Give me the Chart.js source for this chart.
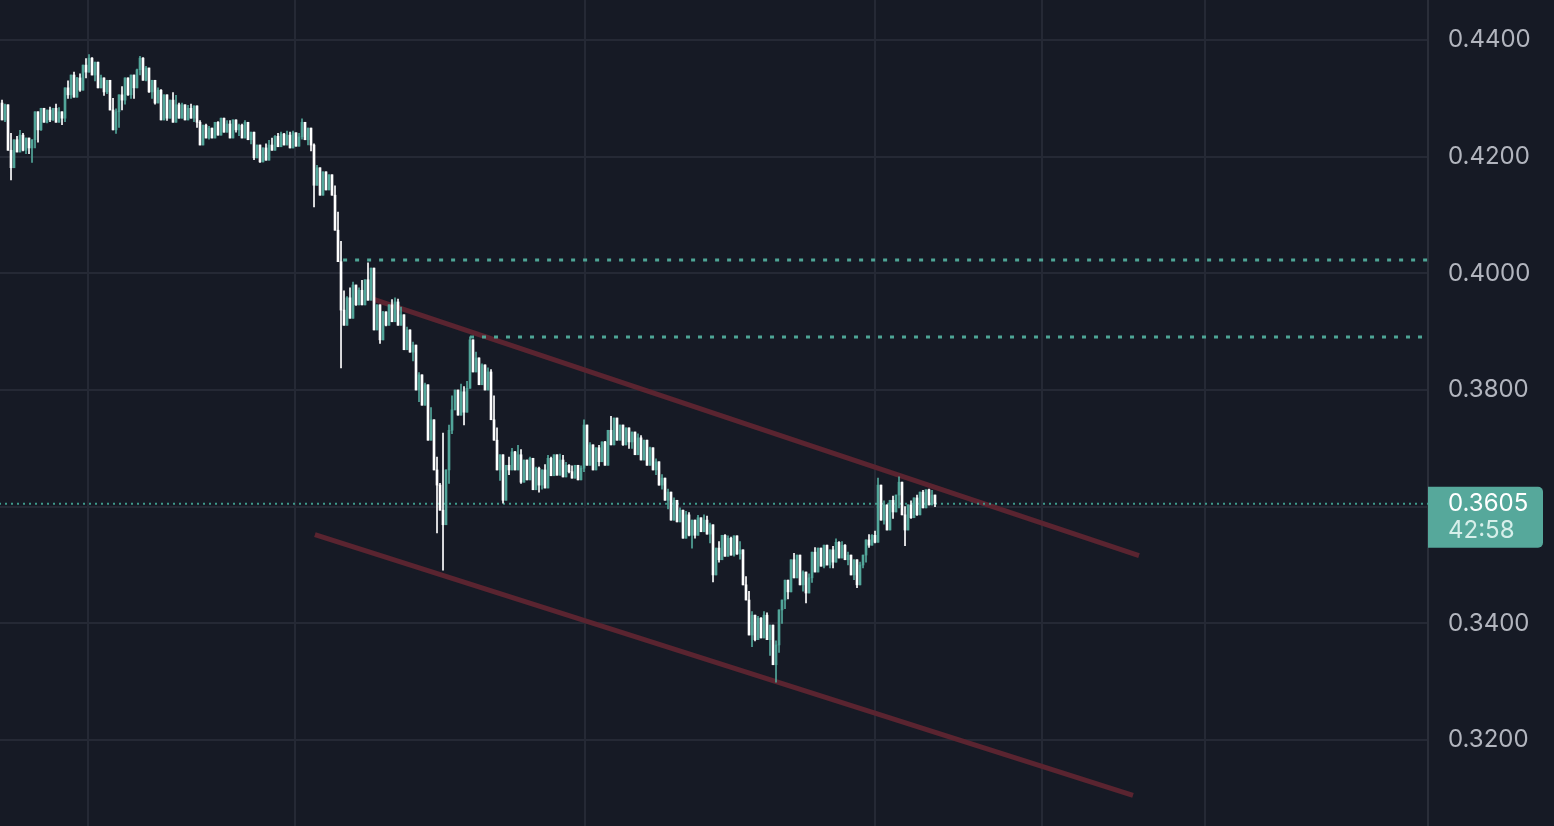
<!DOCTYPE html>
<html>
<head>
<meta charset="utf-8">
<script src="https://cdn.jsdelivr.net/npm/chart.js@4"></script>
<style>
  html, body { margin: 0; padding: 0; background: #161a25; }
  #wrap { width: 1554px; height: 826px; }
</style>
</head>
<body>
<div id="wrap"><canvas id="chart"></canvas></div>
<script>
// prices are x10000, one candle per step, open = previous close
const firstOpen = 4292;
const closes = [
  4263,4289,4211,4181,4229,4208,4237,4211,4232,4215,
  4229,4277,4246,4283,4259,4280,4263,4283,4259,4277,
  4266,4318,4306,4340,4302,4335,4314,4357,4345,4369,
  4340,4362,4318,4335,4311,4331,4280,4246,4277,4306,
  4297,4335,4306,4340,4318,4349,4369,4331,4352,4311,
  4331,4292,4314,4263,4306,4266,4297,4259,4289,4266,
  4289,4263,4283,4266,4287,4259,4220,4254,4232,4249,
  4232,4259,4237,4266,4242,4256,4232,4263,4246,4254,
  4232,4259,4229,4242,4198,4220,4191,4215,4194,4220,
  4211,4235,4217,4239,4220,4237,4215,4241,4218,4234,
  4259,4229,4249,4220,4151,4181,4134,4174,4143,4169,
  4134,4074,4020,3937,3911,3958,3923,3980,3946,3971,
  3946,3989,3954,4009,3903,3946,3886,3934,3911,3946,
  3917,3951,3911,3929,3869,3903,3865,3877,3800,3826,
  3774,3809,3714,3749,3663,3637,3594,3569,3663,3731,
  3766,3800,3757,3797,3762,3803,3886,3831,3855,3809,
  3843,3800,3831,3749,3714,3663,3689,3611,3671,3663,
  3694,3663,3689,3642,3680,3646,3683,3629,3666,3637,
  3663,3632,3683,3653,3689,3654,3680,3651,3671,3660,
  3649,3671,3646,3666,3740,3671,3706,3663,3701,3677,
  3711,3671,3731,3706,3752,3714,3740,3706,3735,3711,
  3728,3689,3718,3680,3714,3671,3701,3663,3677,3637,
  3649,3611,3625,3577,3611,3574,3594,3546,3586,3551,
  3577,3551,3581,3557,3577,3553,3569,3483,3529,3509,
  3551,3515,3546,3517,3550,3519,3526,3466,3440,3380,
  3414,3372,3409,3375,3414,3372,3397,3329,3363,3423,
  3440,3474,3454,3509,3478,3517,3466,3488,3452,3478,
  3522,3488,3529,3498,3534,3500,3526,3505,3539,3512,
  3534,3509,3517,3483,3509,3466,3500,3517,3543,3534,
  3551,3539,3637,3577,3603,3560,3611,3591,3620,3642,
  3586,3560,3603,3581,3615,3586,3625,3598,3629,3603,3620,3605
];
const highs = [
  4297,4290,4270,4240,4225,4235,4245,4240,4230,4228,
  4225,4235,4255,4272,4280,4275,4285,4282,4290,4284,
  4275,4312,4330,4326,4345,4336,4342,4350,4368,4375,
  4370,4356,4340,4340,4335,4325,4322,4300,4282,4300,
  4320,4318,4325,4322,4338,4350,4372,4370,4355,4340,
  4325,4312,4318,4315,4302,4300,4295,4310,4305,4292,
  4292,4285,4288,4290,4282,4270,4262,4252,4256,4252,
  4248,4255,4260,4258,4265,4262,4262,4260,4258,4256,
  4256,4262,4258,4242,4232,4216,4215,4212,4222,4228,
  4232,4236,4240,4242,4240,4244,4242,4244,4240,4240,
  4265,4255,4242,4232,4222,4185,4175,4168,4170,4168,
  4162,4150,4105,4055,3970,3960,3975,3985,3976,3975,
  3988,3985,4018,4000,3992,3942,3925,3935,3932,3945,
  3955,3958,3956,3942,3928,3908,3895,3882,3872,3830,
  3815,3812,3795,3770,3735,3685,3640,3726,3655,3740,
  3790,3800,3795,3810,3806,3815,3891,3880,3865,3848,
  3845,3840,3838,3835,3790,3735,3685,3660,3668,3685,
  3700,3695,3705,3698,3678,3678,3685,3682,3668,3668,
  3660,3672,3688,3685,3685,3682,3690,3688,3676,3672,
  3670,3668,3668,3670,3749,3720,3710,3695,3692,3705,
  3700,3712,3722,3755,3745,3736,3740,3738,3732,3732,
  3722,3720,3725,3722,3712,3710,3702,3700,3682,3668,
  3655,3642,3630,3618,3615,3598,3598,3588,3592,3590,
  3565,3575,3585,3580,3586,3584,3572,3548,3515,3540,
  3550,3552,3550,3548,3546,3540,3540,3522,3480,3455,
  3420,3405,3412,3410,3420,3418,3395,3385,3370,3412,
  3440,3455,3472,3497,3520,3512,3500,3490,3476,3485,
  3505,3530,3522,3520,3518,3528,3526,3532,3545,3540,
  3540,3535,3522,3515,3505,3492,3505,3515,3540,3552,
  3552,3558,3649,3625,3610,3600,3600,3618,3615,3651,
  3640,3600,3592,3610,3608,3620,3620,3628,3625,3630,3628,3618
];
const lows = [
  4278,4260,4230,4160,4188,4215,4225,4210,4205,4205,
  4190,4215,4225,4245,4260,4258,4260,4262,4265,4260,
  4255,4260,4300,4300,4310,4312,4312,4328,4335,4350,
  4342,4330,4318,4318,4305,4308,4290,4270,4240,4250,
  4280,4290,4305,4300,4300,4325,4340,4345,4330,4310,
  4300,4290,4292,4270,4280,4262,4268,4285,4275,4275,
  4275,4265,4268,4270,4260,4250,4225,4230,4240,4230,
  4232,4238,4245,4240,4242,4244,4245,4240,4242,4236,
  4238,4245,4230,4222,4195,4198,4190,4194,4202,4210,
  4215,4220,4224,4226,4222,4225,4226,4228,4222,4225,
  4230,4232,4220,4210,4114,4160,4150,4140,4145,4148,
  4138,4095,4040,3838,3925,3930,3950,3960,3945,3950,
  3960,3955,3960,3980,3930,3910,3880,3900,3910,3915,
  3930,3940,3930,3915,3895,3880,3865,3850,3820,3780,
  3785,3785,3760,3725,3670,3555,3595,3491,3570,3640,
  3725,3775,3765,3770,3740,3778,3805,3850,3835,3818,
  3820,3810,3812,3775,3725,3670,3645,3606,3625,3655,
  3670,3672,3675,3640,3650,3655,3655,3640,3645,3625,
  3630,3648,3660,3655,3658,3665,3665,3665,3655,3658,
  3652,3655,3648,3650,3660,3700,3674,3675,3670,3670,
  3680,3685,3700,3710,3725,3715,3718,3705,3710,3700,
  3700,3700,3700,3690,3692,3678,3678,3670,3655,3640,
  3630,3615,3596,3598,3580,3582,3575,3560,3562,3550,
  3529,3546,3565,3558,3560,3562,3538,3471,3485,3505,
  3512,3535,3524,3525,3515,3518,3510,3466,3440,3380,
  3360,3370,3380,3385,3388,3380,3345,3355,3299,3350,
  3400,3425,3442,3460,3485,3490,3478,3455,3435,3455,
  3470,3495,3500,3500,3495,3500,3495,3495,3520,3515,
  3518,3512,3500,3492,3475,3461,3470,3495,3505,3530,
  3536,3538,3545,3595,3570,3572,3580,3580,3595,3598,
  3588,3533,3560,3580,3585,3585,3598,3598,3605,3608,3610,3600
];

// price axis ticks and vertical time grid (in candle steps)
const priceTicks = [0.32, 0.34, 0.36, 0.38, 0.40, 0.42, 0.44];
const timeGrid = [28.67, 97.67, 194.33, 291, 346.67, 401];

// drawings: channel lines and horizontal levels [candle step, price]
const channelUpper = [[123.7, 0.3956], [379, 0.3516]];
const channelLower = [[104.3, 0.3552], [377, 0.3105]];
const levelHigh = [[113.7, 0.4023], [476, 0.4023]];
const levelMid = [[156, 0.3891], [476, 0.3891]];
const lastPrice = 0.3605;
const countdown = '42:58';

const gridColor = '#252935';
const teal = '#52a69a';
const white = '#ffffff';
const channelColor = '#5a2430';
const fontFamily = 'Inter, "Noto Sans", sans-serif';

const opens = closes.map((c, i) => (i === 0 ? firstOpen : closes[i - 1]));
const candleColors = closes.map((c, i) => (c >= opens[i] ? teal : white));

// wick always covers the body
const wickRange = i => [
    Math.min(lows[i], opens[i], closes[i]) / 10000,
    Math.max(highs[i], opens[i], closes[i]) / 10000
];

const toPts = arr => arr.map(p => ({ x: p[0], y: p[1] }));

const priceTag = {
    id: 'priceTag',
    afterDraw(chart) {
        const ctx = chart.ctx;
        const y = chart.scales.y;
        const py = y.getPixelForValue(lastPrice);
        ctx.save();
        ctx.fillStyle = '#56a89b';
        ctx.beginPath();
        ctx.roundRect(y.left, py - 17, 115, 61, [0, 5, 5, 0]);
        ctx.fill();
        ctx.font = '24px ' + fontFamily;
        ctx.textBaseline = 'middle';
        ctx.textAlign = 'left';
        ctx.fillStyle = '#ffffff';
        ctx.fillText(lastPrice.toFixed(4), y.left + 20, py);
        ctx.fillStyle = '#d6efea';
        ctx.fillText(countdown, y.left + 20, py + 27);
        ctx.restore();
    }
};

const ctx = document.getElementById('chart').getContext('2d');
new Chart(ctx, {
    type: 'bar',
    data: {
        datasets: [
            {
                label: 'wicks',
                data: closes.map((c, i) => ({ x: i, y: wickRange(i) })),
                backgroundColor: candleColors,
                barThickness: 1,
                grouped: false,
                order: 1
            },
            {
                label: 'bodies',
                data: closes.map((c, i) => ({ x: i, y: [opens[i] / 10000, c / 10000] })),
                backgroundColor: candleColors,
                barThickness: 2,
                minBarLength: 1,
                grouped: false,
                order: 0
            },
            {
                type: 'line',
                data: toPts(channelUpper),
                borderColor: channelColor,
                borderWidth: 5,
                pointRadius: 0,
                order: 5
            },
            {
                type: 'line',
                data: toPts(channelLower),
                borderColor: channelColor,
                borderWidth: 5,
                pointRadius: 0,
                order: 5
            },
            {
                type: 'line',
                data: toPts(levelHigh),
                borderColor: '#4ea596',
                borderWidth: 3,
                borderDash: [4, 8],
                pointRadius: 0,
                order: 4
            },
            {
                type: 'line',
                data: toPts(levelMid),
                borderColor: '#4ea596',
                borderWidth: 3,
                borderDash: [4, 8],
                pointRadius: 0,
                order: 4
            },
            {
                type: 'line',
                data: [{ x: -1, y: lastPrice }, { x: 476, y: lastPrice }],
                borderColor: '#3f9a8c',
                borderWidth: 2,
                borderDash: [2, 4],
                pointRadius: 0,
                order: 3
            }
        ]
    },
    options: {
        responsive: true,
        maintainAspectRatio: false,
        animation: false,
        layout: { padding: 0, autoPadding: false },
        plugins: {
            legend: { display: false },
            tooltip: { enabled: false }
        },
        scales: {
            x: {
                type: 'linear',
                offset: false,
                min: -0.67,
                max: 475.33,
                afterBuildTicks: s => { s.ticks = timeGrid.map(v => ({ value: v })); },
                afterFit: s => { s.height = 0; },
                grid: { color: gridColor, lineWidth: 2, drawTicks: false, offset: false },
                border: { display: false },
                ticks: { display: false }
            },
            y: {
                type: 'linear',
                position: 'right',
                min: 0.30526,
                max: 0.44686,
                afterBuildTicks: s => { s.ticks = priceTicks.map(v => ({ value: v })); },
                afterFit: s => {
                    s.width = 126;
                    s.paddingTop = 0;
                    s.paddingBottom = 0;
                },
                grid: { color: gridColor, lineWidth: 2, drawTicks: false },
                border: { color: '#2a2e39', width: 2 },
                ticks: {
                    padding: 20,
                    color: '#b2b5be',
                    font: { family: fontFamily, size: 24 },
                    callback: v => v.toFixed(4)
                }
            }
        }
    },
    plugins: [priceTag]
});
</script>
</body>
</html>
